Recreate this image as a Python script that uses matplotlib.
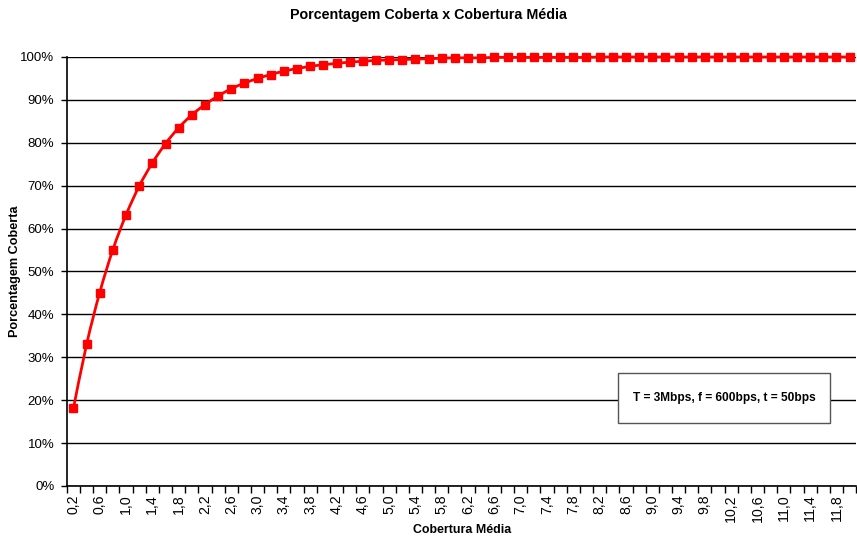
import numpy as np
import matplotlib.pyplot as plt
from matplotlib import rcParams
from matplotlib.path import Path
from matplotlib.patches import PathPatch, Rectangle
from matplotlib.ticker import FixedLocator, PercentFormatter

rcParams['font.family'] = 'sans-serif'
rcParams['font.sans-serif'] = ['Liberation Sans']
rcParams['font.size'] = 9

# cobertura media (categorias 0,2 ... 12,0)
cobertura = [round(0.2 * (i + 1), 1) for i in range(60)]
# porcentagem coberta (%)
porcentagem = [18.1, 33.0, 45.1, 55.1, 63.2, 69.9, 75.3, 79.8, 83.5, 86.5,
               88.9, 90.9, 92.6, 93.9, 95.0, 95.9, 96.7, 97.3, 97.8, 98.2,
               98.5, 98.8, 99.0, 99.2, 99.3, 99.4, 99.5, 99.6, 99.7, 99.8,
               99.8, 99.8, 99.9, 99.9, 99.9, 99.9, 99.9, 99.9, 99.9, 99.9,
               100.0, 100.0, 100.0, 100.0, 100.0, 100.0, 100.0, 100.0, 100.0, 100.0,
               100.0, 100.0, 100.0, 100.0, 100.0, 100.0, 100.0, 100.0, 100.0, 100.0]
x_labels = [f'{v:.1f}'.replace('.', ',') for v in cobertura]


def smooth_path(xs, ys):
    '''Bezier path through the points (like a smoothed Excel line)'''
    xs = np.asarray(xs, float)
    ys = np.asarray(ys, float)
    verts = [(xs[0], ys[0])]
    codes = [Path.MOVETO]
    n = len(xs)
    for i in range(n - 1):
        x0, y0 = (xs[i - 1], ys[i - 1]) if i > 0 else (xs[i], ys[i])
        x3, y3 = (xs[i + 2], ys[i + 2]) if i + 2 < n else (xs[i + 1], ys[i + 1])
        c1 = (xs[i] + (xs[i + 1] - x0) / 6, ys[i] + (ys[i + 1] - y0) / 6)
        c2 = (xs[i + 1] - (x3 - xs[i]) / 6, ys[i + 1] - (y3 - ys[i]) / 6)
        verts += [c1, c2, (xs[i + 1], ys[i + 1])]
        codes += [Path.CURVE4] * 3
    return Path(verts, codes)


fig = plt.figure(figsize=(8.57, 5.36), dpi=100)
ax = fig.add_axes([0.078, 0.0933, 0.921, 0.8004])

x = np.arange(len(cobertura))
ax.add_patch(PathPatch(smooth_path(x, porcentagem), facecolor='none',
                       edgecolor='#ff0000', lw=2, zorder=3, clip_on=False))
ax.plot(x, porcentagem, linestyle='none', marker='s', ms=5.5,
        color='#ff0000', zorder=4, clip_on=False)

ax.set_xlim(-0.5, len(cobertura) - 0.5)
ax.set_ylim(0, 100)
ax.yaxis.set_major_locator(FixedLocator(np.arange(0, 101, 10)))
ax.yaxis.set_major_formatter(PercentFormatter(decimals=0))
ax.grid(axis='y', color='black', lw=1)
ax.set_axisbelow(True)

ax.set_xticks(x[::2])
ax.set_xticklabels(x_labels[::2], rotation=90)
ax.xaxis.set_minor_locator(FixedLocator(np.arange(-0.5, len(cobertura), 1)))
ax.tick_params(axis='x', which='major', length=0, pad=6, labelsize=10.2)
ax.tick_params(axis='x', which='minor', length=5, width=1, direction='out')
ax.tick_params(axis='y', length=4, width=1, labelsize=9.5, pad=5)

for side in ['top', 'right']:
    ax.spines[side].set_visible(False)
ax.spines['left'].set_linewidth(1.2)
ax.spines['bottom'].set_linewidth(1.2)

# caixa de texto
box_x0, box_x1 = (619 - 67) / 790, (831 - 67) / 790
box_y0, box_y1 = (486 - 423) / 429, (486 - 373) / 429
ax.add_patch(Rectangle((box_x0, box_y0), box_x1 - box_x0, box_y1 - box_y0,
                       transform=ax.transAxes, facecolor='white',
                       edgecolor='#555555', lw=1, zorder=5))
ax.text((box_x0 + box_x1) / 2, (box_y0 + box_y1) / 2,
        'T = 3Mbps, f = 600bps, t = 50bps', transform=ax.transAxes,
        ha='center', va='center', fontsize=8.6, fontweight='bold', zorder=6)

fig.text(0.5, 0.972, 'Porcentagem Coberta x Cobertura Média', ha='center',
         va='center', fontsize=10.3, fontweight='bold')
fig.text(0.539, 0.0, 'Cobertura Média', ha='center', va='bottom',
         fontsize=8.9, fontweight='bold')
fig.text(0.018, 0.494, 'Porcentagem Coberta', ha='center', va='center',
         rotation=90, fontsize=9.1, fontweight='bold')

fig.savefig('out.png', dpi=100)
